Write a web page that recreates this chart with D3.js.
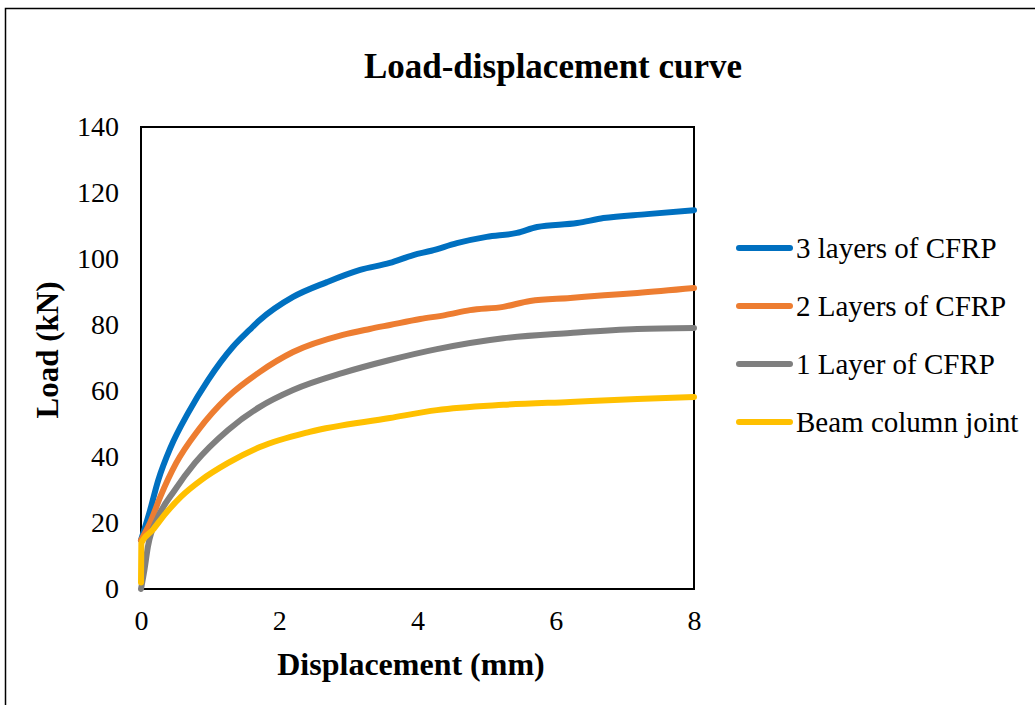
<!DOCTYPE html>
<html>
<head>
<meta charset="utf-8">
<script src="https://cdn.jsdelivr.net/npm/d3@7"></script>
<style>
  body { margin: 0; background: #fff; }
  text { font-family: "Liberation Serif", "Times New Roman", serif; fill: #000; }
</style>
</head>
<body>
<div id="chart"></div>
<script>
//-- DATA --\\
var chartTitle = "Load-displacement curve";
var xTitle = "Displacement (mm)";
var yTitle = "Load (kN)";
var xTicks = [0, 2, 4, 6, 8];
var yTicks = [0, 20, 40, 60, 80, 100, 120, 140];

var seriesNames = ["3 layers of CFRP", "2 Layers of CFRP", "1 Layer of CFRP", "Beam column joint"];

var disp3 = [0, 0.12, 0.25, 0.43, 0.68, 0.97, 1.33, 1.57, 1.72, 2.2, 2.69, 3.17, 3.6, 3.94, 4.2, 4.57, 5.0, 5.44, 5.73, 6.31, 6.69, 7.32, 8.0];
var load3 = [14.8, 23, 33, 43, 53.3, 63.3, 73.4, 78.5, 81.5, 88.5, 93, 96.7, 98.8, 101.2, 102.5, 104.8, 106.7, 107.9, 109.7, 110.9, 112.4, 113.6, 114.8];

var disp2 = [0, 0.13, 0.28, 0.51, 0.83, 1.26, 1.72, 2.2, 2.92, 3.31, 3.6, 4.04, 4.4, 4.76, 5.24, 5.63, 6.21, 6.7, 7.18, 8.0];
var load2 = [14.8, 20, 28, 38.2, 48.2, 58.3, 65.8, 71.8, 77, 78.8, 80, 81.8, 83, 84.5, 85.5, 87.3, 88.2, 89, 89.7, 91.2];

var disp1 = [0, 0.05, 0.1, 0.25, 0.49, 0.78, 1.26, 1.72, 2.2, 2.92, 3.6, 4.28, 5.24, 6.21, 7.18, 8.0];
var load1 = [0, 5.8, 12.8, 21.9, 30, 38.2, 48.2, 55.2, 60.3, 65.5, 69.4, 72.7, 76, 77.6, 78.8, 79.1];

var dispB = [0, 0.005, 0.17, 0.36, 0.58, 0.87, 1.26, 1.72, 2.44, 3.6, 4.28, 5.24, 6.21, 7.18, 8.0];
var loadB = [2, 13.9, 17.9, 23, 28, 33, 38.2, 43, 47.6, 51.8, 54.2, 55.8, 56.7, 57.6, 58.2];

var seriesColors = ["#0070C0", "#ED7D31", "#7F7F7F", "#FFC000"];

//-- LAYOUT --\\
var width = 1035, height = 705;
var plotLeft = 141, plotRight = 694, plotTop = 127, plotBottom = 589;
var tickFont = "28px";
var legendFont = "29px";

var series = [
  { name: seriesNames[0], x: disp3, y: load3, color: seriesColors[0] },
  { name: seriesNames[1], x: disp2, y: load2, color: seriesColors[1] },
  { name: seriesNames[2], x: disp1, y: load1, color: seriesColors[2] },
  { name: seriesNames[3], x: dispB, y: loadB, color: seriesColors[3] }
];

var svg = d3.select("#chart").append("svg")
  .attr("width", width)
  .attr("height", height);

// outer chart border (runs off the right and bottom edge)
svg.append("rect")
  .attr("x", 5.5).attr("y", 8.5)
  .attr("width", width + 20).attr("height", height + 20)
  .attr("fill", "none").attr("stroke", "#000").attr("stroke-width", 1.5);

var x = d3.scaleLinear().domain([0, 8]).range([plotLeft, plotRight]);
var y = d3.scaleLinear().domain([0, 140]).range([plotBottom, plotTop]);

// plot frame
svg.append("rect")
  .attr("x", plotLeft).attr("y", plotTop)
  .attr("width", plotRight - plotLeft).attr("height", plotBottom - plotTop)
  .attr("fill", "none").attr("stroke", "#000").attr("stroke-width", 2);

// axes: labels only, no tick marks
var yAxis = svg.append("g")
  .attr("transform", "translate(" + plotLeft + ",0)")
  .call(d3.axisLeft(y).tickValues(yTicks).tickSize(0).tickPadding(22));
yAxis.select(".domain").remove();
yAxis.selectAll("text")
  .style("font-family", "'Liberation Serif', serif")
  .style("font-size", tickFont)
  .attr("fill", "#000");

var xAxis = svg.append("g")
  .attr("transform", "translate(0," + plotBottom + ")")
  .call(d3.axisBottom(x).tickValues(xTicks).tickSize(0).tickPadding(21));
xAxis.select(".domain").remove();
xAxis.selectAll("text")
  .style("font-family", "'Liberation Serif', serif")
  .style("font-size", tickFont)
  .attr("fill", "#000");

// curves
var line = d3.line()
  .x(function (d) { return x(d[0]); })
  .y(function (d) { return y(d[1]); })
  .curve(d3.curveMonotoneX);

series.forEach(function (s) {
  var pts = s.x.map(function (v, i) { return [v, s.y[i]]; });
  svg.append("path")
    .datum(pts)
    .attr("d", line)
    .attr("fill", "none")
    .attr("stroke", s.color)
    .attr("stroke-width", 6)
    .attr("stroke-linecap", "round")
    .attr("stroke-linejoin", "round");
});

// titles
svg.append("text")
  .attr("x", 553).attr("y", 78)
  .attr("text-anchor", "middle")
  .style("font-size", "35px").style("font-weight", "bold")
  .text(chartTitle);

svg.append("text")
  .attr("x", 411).attr("y", 675)
  .attr("text-anchor", "middle")
  .style("font-size", "32px").style("font-weight", "bold")
  .text(xTitle);

svg.append("text")
  .attr("transform", "translate(58,350) rotate(-90)")
  .attr("text-anchor", "middle")
  .style("font-size", "31px").style("font-weight", "bold")
  .text(yTitle);

// legend
var legend = svg.append("g");
series.forEach(function (s, i) {
  var ly = 248 + i * 58;
  legend.append("line")
    .attr("x1", 739).attr("x2", 790)
    .attr("y1", ly).attr("y2", ly)
    .attr("stroke", s.color).attr("stroke-width", 6)
    .attr("stroke-linecap", "round");
  legend.append("text")
    .attr("x", 796).attr("y", ly)
    .attr("dy", "0.35em")
    .style("font-size", legendFont)
    .text(s.name);
});
</script>
</body>
</html>
